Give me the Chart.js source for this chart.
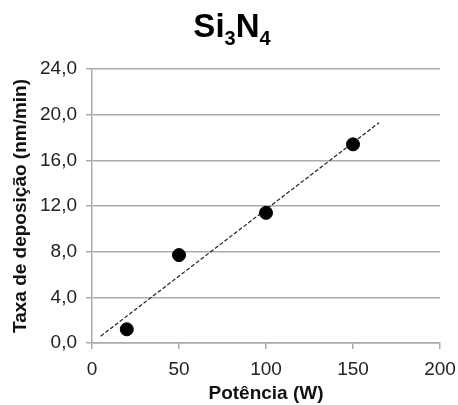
<!DOCTYPE html>
<html>
<head>
<meta charset="utf-8">
<script src="https://cdn.jsdelivr.net/npm/chart.js@4/dist/chart.umd.min.js"></script>
<style>
html,body{margin:0;padding:0;background:#fff;}
#wrap{width:458px;height:405px;position:relative;}
</style>
</head>
<body>
<div id="wrap"><canvas id="c" width="458" height="405"></canvas></div>
<script>
// Data
const powerW = [20, 50, 100, 150];
const rateNmMin = [1.2, 7.7, 11.4, 17.4];
const trendX = [5, 165];
const trendY = [0.6, 19.3];
const xTicks = [0, 50, 100, 150, 200];
const yTicks = [0, 4, 8, 12, 16, 20, 24];

const FONT = '"Liberation Sans", Arial, sans-serif';
const GRID = '#ababab';

const titlePlugin = {
  id: 'subTitle',
  afterDraw(chart) {
    const ctx = chart.ctx;
    const parts = [
      {t: 'Si', sub: false}, {t: '3', sub: true},
      {t: 'N', sub: false}, {t: '4', sub: true}
    ];
    const big = 'bold 33px ' + FONT, small = 'bold 20px ' + FONT;
    ctx.save();
    let total = 0;
    parts.forEach(p => { ctx.font = p.sub ? small : big; p.w = ctx.measureText(p.t).width; total += p.w; });
    let x = 232 - total / 2;
    const base = 37;
    ctx.fillStyle = '#000';
    ctx.textBaseline = 'alphabetic';
    ctx.textAlign = 'left';
    parts.forEach(p => {
      ctx.font = p.sub ? small : big;
      ctx.fillText(p.t, x, p.sub ? base + 8 : base);
      x += p.w;
    });
    ctx.restore();
  }
};

new Chart(document.getElementById('c'), {
  type: 'scatter',
  data: {
    datasets: [
      {
        data: powerW.map((x, i) => ({x: x, y: rateNmMin[i]})),
        backgroundColor: '#000',
        borderColor: '#000',
        pointRadius: 6.5,
        pointHoverRadius: 6.5,
        order: 1
      },
      {
        data: trendX.map((x, i) => ({x: x, y: trendY[i]})),
        showLine: true,
        borderColor: '#222',
        borderWidth: 1.2,
        borderDash: [4, 2],
        pointRadius: 0,
        order: 2
      }
    ]
  },
  options: {
    responsive: false,
    animation: false,
    events: [],
    layout: {padding: {left: 0, right: 18, top: 69, bottom: 0}},
    plugins: {legend: {display: false}, tooltip: {enabled: false}, title: {display: false}},
    scales: {
      x: {
        type: 'linear',
        min: 0, max: 200,
        afterBuildTicks: s => { s.ticks = xTicks.map(v => ({value: v})); },
        afterFit: s => { s.height = 62; s.paddingRight = 0; s.paddingLeft = 0; },
        grid: {display: true, drawOnChartArea: false, drawTicks: true, tickLength: 6, color: GRID, lineWidth: 1.5},
        border: {display: true, color: GRID, width: 1.5},
        ticks: {color: '#222', padding: 9, font: {family: FONT, size: 19}, maxRotation: 0},
        title: {display: true, text: 'Potência (W)', color: '#111', padding: {top: 0, bottom: 0}, font: {family: FONT, size: 19, weight: 'bold'}}
      },
      y: {
        type: 'linear',
        min: 0, max: 24,
        afterBuildTicks: s => { s.ticks = yTicks.map(v => ({value: v})); },
        afterFit: s => { s.width = 92; },
        grid: {display: true, drawOnChartArea: true, drawTicks: true, tickLength: 6, color: GRID, lineWidth: 1.5},
        border: {display: true, color: GRID, width: 1.5},
        ticks: {color: '#222', padding: 9, font: {family: FONT, size: 19}, callback: v => v.toFixed(1).replace('.', ',')},
        title: {display: true, text: 'Taxa de deposição (nm/min)', color: '#111', padding: {top: 9, bottom: 0}, font: {family: FONT, size: 19, weight: 'bold'}}
      }
    }
  },
  plugins: [titlePlugin]
});
</script>
</body>
</html>
